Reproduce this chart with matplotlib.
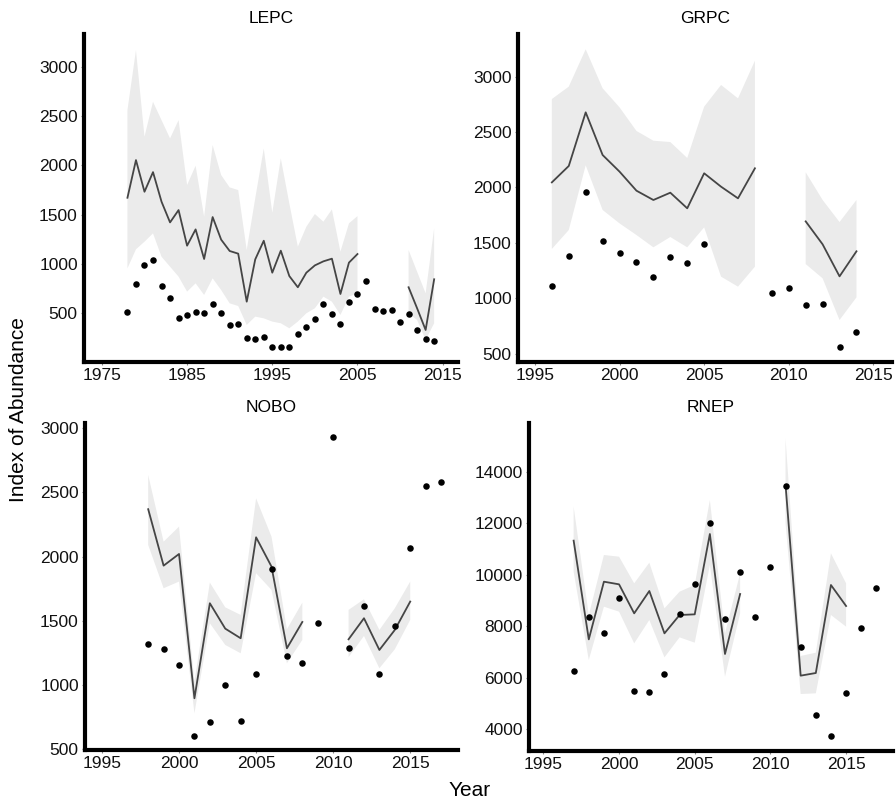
import numpy as np
import matplotlib
matplotlib.use("Agg")
import matplotlib.pyplot as plt

plt.rcParams['font.family'] = ['Liberation Sans', 'DejaVu Sans']

nan = np.nan

# LEPC
lepc_fit_years = list(range(1978, 2015))
lepc_fit = [1672, 2054, 1733, 1932, 1632, 1422, 1547, 1186, 1351, 1051, 1476, 1247, 1132, 1105,
            618, 1047, 1236, 912, 1135, 878, 764, 912, 986, 1027, 1054, 696, 1014, 1101,
            nan, nan, nan, nan, nan, 764, 551, 331, 845]
lepc_hi = [2561, 3169, 2291, 2645, 2459, 2274, 2459, 1801, 1997, 1480, 2206, 1902, 1777, 1750,
           1142, 1666, 2172, 1520, 2071, 1615, 1176, 1378, 1507, 1429, 1554, 1125, 1412, 1486,
           nan, nan, nan, nan, nan, 1142, 922, 703, 1361]
lepc_lo = [956, 1149, 1226, 1311, 1074, 973, 872, 720, 804, 686, 855, 736, 601, 574,
           382, 466, 449, 416, 399, 348, 416, 500, 551, 669, 618, 483, 669, 703,
           nan, nan, nan, nan, nan, 500, 432, 230, 399]
lepc_obs_years = list(range(1978, 2015))
lepc_obs = [510, 801, 986, 1037, 777, 659, 456, 483, 517, 500, 595, 507, 385, 395,
            247, 236, 257, 155, 155, 159, 294, 365, 439, 598, 490, 395, 611, 699,
            828, 541, 520, 537, 412, 490, 328, 243, 216]

# GRPC
grpc_fit_years = list(range(1996, 2015))
grpc_fit = [2046, 2194, 2678, 2293, 2143, 1971, 1887, 1953, 1812, 2128, 2007, 1902, 2173,
            nan, nan, 1694, 1487, 1198, 1424]
grpc_hi = [2798, 2910, 3247, 2895, 2723, 2510, 2422, 2410, 2266, 2729, 2925, 2804, 3144,
           nan, nan, 2137, 1887, 1688, 1887]
grpc_lo = [1445, 1616, 2200, 1797, 1676, 1571, 1460, 1553, 1460, 1640, 1195, 1105, 1285,
           nan, nan, 1309, 1180, 804, 1008]
grpc_obs_years = [1996, 1997, 1998, 1999, 2000, 2001, 2002, 2003, 2004, 2005,
                  2009, 2010, 2011, 2012, 2013, 2014]
grpc_obs = [1108, 1378, 1962, 1514, 1409, 1327, 1195, 1369, 1321, 1487,
            1045, 1090, 936, 945, 557, 693]

# NOBO
nobo_fit_years = list(range(1998, 2016))
nobo_fit = [2369, 1929, 2020, 895, 1636, 1438, 1363, 2150, 1922, 1285, 1490,
            nan, nan, 1355, 1519, 1272, 1428, 1649]
nobo_hi = [2636, 2116, 2233, 1025, 1797, 1604, 1545, 2454, 2155, 1433, 1641,
           nan, nan, 1584, 1667, 1428, 1597, 1805]
nobo_lo = [2090, 1753, 1805, 778, 1480, 1311, 1246, 1870, 1740, 1168, 1350,
           nan, nan, 1215, 1381, 1129, 1277, 1506]
nobo_obs_years = list(range(1998, 2018))
nobo_obs = [1319, 1277, 1157, 604, 708, 996, 716, 1085, 1903, 1225, 1168,
            1485, 2935, 1287, 1615, 1082, 1459, 2064, 2548, 2579]

# RNEP
rnep_fit_years = list(range(1997, 2016))
rnep_fit = [11319, 7484, 9725, 9622, 8495, 9363, 7718, 8430, 8456, 11578, 6915, 9246,
            nan, nan, 13482, 6073, 6176, 9596, 8780]
rnep_hi = [12640, 8430, 10762, 10697, 9661, 10464, 8689, 9337, 9596, 12899, 7718, 10049,
           nan, nan, 15295, 6837, 6966, 10826, 9661]
rnep_lo = [10114, 6681, 8754, 8560, 7329, 8236, 6785, 7562, 7355, 10373, 6034, 8495,
           nan, nan, 11992, 5360, 5386, 8430, 7977]
rnep_obs_years = list(range(1997, 2018))
rnep_obs = [6254, 8352, 7718, 9104, 5490, 5451, 6137, 8469, 9622, 11992, 8262, 10088,
            8339, 10282, 13456, 7174, 4531, 3741, 5412, 7912, 9479]

panels = [
    ("LEPC", lepc_fit_years, lepc_fit, lepc_lo, lepc_hi, lepc_obs_years, lepc_obs,
     [1975, 1985, 1995, 2005, 2015], [500, 1000, 1500, 2000, 2500, 3000]),
    ("GRPC", grpc_fit_years, grpc_fit, grpc_lo, grpc_hi, grpc_obs_years, grpc_obs,
     [1995, 2000, 2005, 2010, 2015], [500, 1000, 1500, 2000, 2500, 3000]),
    ("NOBO", nobo_fit_years, nobo_fit, nobo_lo, nobo_hi, nobo_obs_years, nobo_obs,
     [1995, 2000, 2005, 2010, 2015], [500, 1000, 1500, 2000, 2500, 3000]),
    ("RNEP", rnep_fit_years, rnep_fit, rnep_lo, rnep_hi, rnep_obs_years, rnep_obs,
     [1995, 2000, 2005, 2010, 2015], [4000, 6000, 8000, 10000, 12000, 14000]),
]

# axes boxes in pixels: left, right, top, bottom
boxes = [(84, 458, 34, 362), (518, 892, 34, 362), (85, 458, 423, 750), (529, 893, 423, 751)]
xlims = [(1972.9, 2016.8), (1994.0, 2016.1), (1993.9, 2018.1), (1994.05, 2018.1)]
ylims = [(6, 3333), (425, 3385), (492, 3041), (3145, 15892)]

W, H = 896, 805
fig = plt.figure(figsize=(W / 100, H / 100), dpi=100)

for (name, fy, fit, lo, hi, oy, obs, xt, yt), (l, r, t, b), xl, yl in zip(panels, boxes, xlims, ylims):
    ax = fig.add_axes([l / W, 1 - b / H, (r - l) / W, (b - t) / H])
    ax.fill_between(fy, np.array(lo, float), np.array(hi, float), color='#ebebeb', linewidth=0)
    ax.plot(fy, fit, color='#454545', linewidth=1.3)
    ax.scatter(oy, obs, s=22, color='black', zorder=3, linewidths=0)
    ax.set_xlim(*xl)
    ax.set_ylim(*yl)
    ax.set_xticks(xt)
    ax.set_yticks(yt)
    ax.set_title(name, fontsize=12.5, pad=8)
    for s in ['top', 'right']:
        ax.spines[s].set_visible(False)
    for s in ['left', 'bottom']:
        ax.spines[s].set_linewidth(3)
        ax.spines[s].set_color('black')
    ax.tick_params(labelsize=12.5, length=2.5, width=0.8, color='#888888', pad=2, labelcolor='#111111')

fig.text(18 / W, 1 - 410 / H, "Index of Abundance", rotation=90, fontsize=15,
         ha='center', va='center')
fig.text(470 / W, 1 - 790 / H, "Year", fontsize=15, ha='center', va='center')

fig.savefig("out.png", dpi=100)
